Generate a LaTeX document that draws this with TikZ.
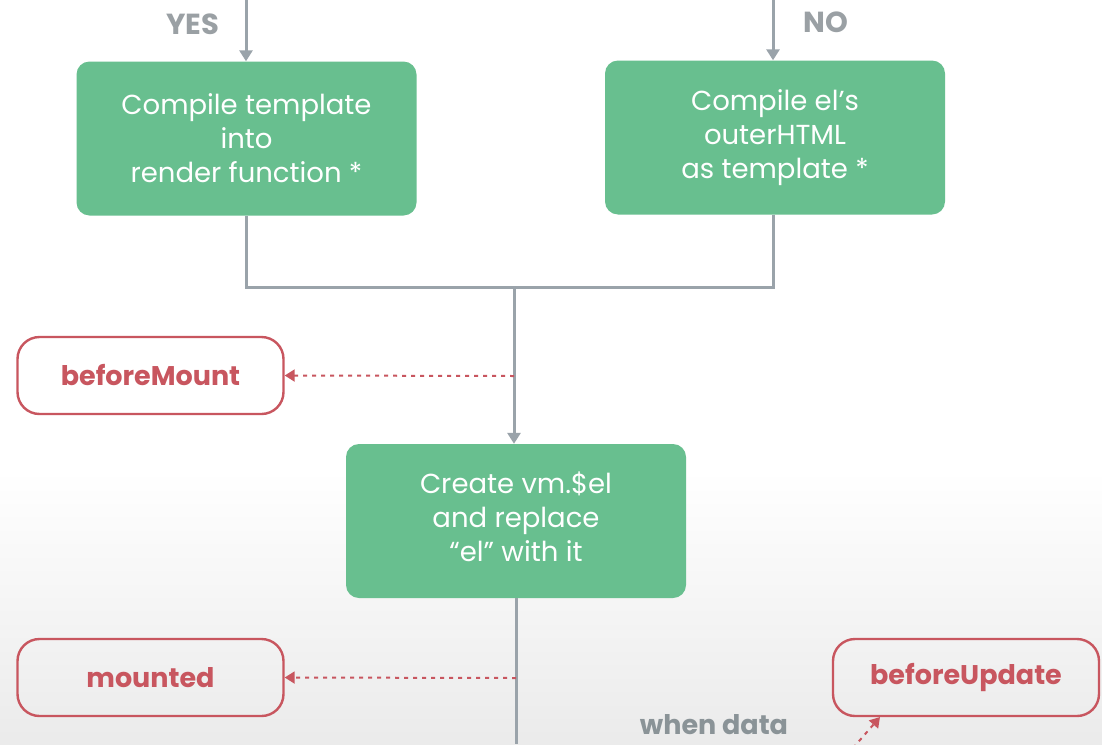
\documentclass[tikz,border=0pt]{standalone}
\usepackage{fontspec}
\setmainfont{Poppins}
\usetikzlibrary{arrows.meta}
\definecolor{boxgreen}{HTML}{68BF8F}
\definecolor{hookred}{HTML}{C8565F}
\definecolor{linegray}{HTML}{9AA3AA}
\definecolor{labelgray}{HTML}{9AA0A4}
\definecolor{datagray}{HTML}{8A9397}
\begin{document}
\begin{tikzpicture}[x=1pt,y=-1pt,
  stepbox/.style={fill=boxgreen, rounded corners=13pt, minimum width=340pt, minimum height=154pt,
    text=white, align=center, font=\fontsize{27.5}{34}\selectfont, inner sep=0pt},
  hookbox/.style={draw=hookred, line width=2.4pt, rounded corners=22pt, minimum width=266pt,
    minimum height=77pt, text=hookred, font=\fontsize{27}{30}\selectfont\bfseries, inner sep=0pt},
  flow/.style={draw=linegray, line width=3pt},
  flowarrow/.style={flow, -{Triangle[width=13pt,length=11pt]}},
  hookarrow/.style={draw=hookred, line width=2pt, dash pattern=on 4pt off 5pt,
    -{Triangle[width=12pt,length=10pt]}},
  lbl/.style={text=labelgray, font=\fontsize{29}{32}\selectfont\bfseries, inner sep=0pt}]
\useasboundingbox (0,0) rectangle (1102,744);
\fill[white] (0,0) rectangle (1102,470);
\shade[top color=white, bottom color=black!8] (0,470) rectangle (1102,744);
\coordinate (topL) at (246,0);
\coordinate (topR) at (773,0);
\node[stepbox] (tpl) at (246.5,138.5) {Compile template\\into\\render function *};
\node[stepbox] (outer) at (775,137.5) {Compile el's\\outerHTML\\as template *};
\node[stepbox] (create) at (516,521) {\raisebox{3pt}{\begin{tabular}{@{}c@{}}Create vm.\$el\\and replace\\“el” with it\end{tabular}}};
\node[hookbox] (bm) at (150.5,375.5) {beforeMount};
\node[hookbox] (mnt) at (150.5,677.5) {mounted};
\node[hookbox] (bu) at (966,677.5) {beforeUpdate};
\node[lbl] (yes) at (193,24) {YES};
\node[lbl] (no) at (826,22) {NO};
\node[lbl, text=datagray, font=\fontsize{27}{30}\selectfont\bfseries] (wd) at (714,725) {when data};
\draw[flowarrow] (topL) -- (tpl.north -| topL);
\draw[flowarrow] (topR) -- (outer.north -| topR);
\coordinate (join) at (514,287);
\draw[flow] (tpl.south -| topL) |- (join);
\draw[flow] (outer.south -| topR) |- (join);
\draw[flowarrow] (join) -- (create.north -| join);
\coordinate (bottom) at (516,744);
\draw[flow] (create.south) -- (bottom);
\coordinate (bmsrc) at (514,376);
\coordinate (mntsrc) at (516,678);
\draw[hookarrow] (bmsrc) -- (bm.east);
\draw[hookarrow] (mntsrc) -- (mnt.east);
\coordinate (busrc) at (853,748);
\coordinate (butip) at (880,717);
\draw[hookarrow] (busrc) -- (butip);
\end{tikzpicture}
\end{document}
